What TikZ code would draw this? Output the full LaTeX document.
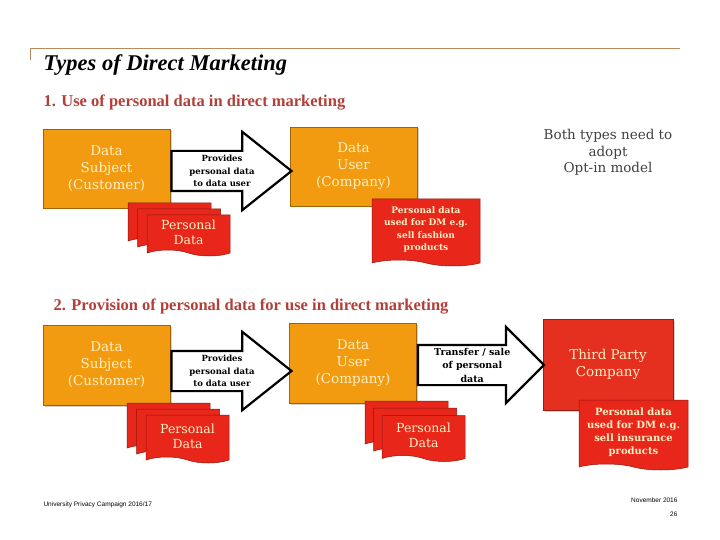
\documentclass[tikz,border=0pt]{standalone}
\usepackage{fontspec}
\setmainfont{DejaVu Serif}
\newfontfamily\headfont{Liberation Serif}
\newfontfamily\footfont{Liberation Sans}
\usepackage{tikz}
\usetikzlibrary{shapes.symbols}
\usetikzlibrary{shapes.arrows}
\usetikzlibrary{shadows}
\usetikzlibrary{calc}
\definecolor{boxorange}{HTML}{F29A10}
\definecolor{boxred}{HTML}{E5301F}
\definecolor{docred}{HTML}{E8261A}
\definecolor{cream}{HTML}{FFF0C4}
\definecolor{headred}{HTML}{B23F38}
\definecolor{rulebrown}{HTML}{B98A5C}
\definecolor{notegray}{HTML}{404040}
\tikzset{
	orangebox/.style={rectangle, fill=boxorange, draw=boxorange!65!black, line width=0.8pt,
		minimum width=127pt, minimum height=79pt, text=cream, align=center,
		font=\fontsize{13.5}{17}\selectfont, drop shadow={opacity=0.35, shadow xshift=1.5pt, shadow yshift=-1.5pt}},
	redbox/.style={orangebox, fill=boxred, draw=boxred!65!black},
	sheet/.style={shape=tape, tape bend top=none, tape bend bottom=out and in, tape bend height=6pt,
		fill=docred, draw=docred!60!black, line width=0.5pt, minimum width=83pt, minimum height=41pt,
		text=cream, align=center, font=\fontsize{12.5}{15}\selectfont},
	notesheet/.style={sheet, font=\bfseries\fontsize{9}{12.5}\selectfont},
	bigarrow/.style={single arrow, draw=black, fill=white, line width=2.2pt, anchor=tail,
		inner xsep=0pt, inner ysep=19pt, single arrow head extend=19pt},
	arrowtext/.style={align=center, inner sep=0pt, font=\bfseries\fontsize{8.5}{12.5}\selectfont}
}
\begin{document}
\begin{tikzpicture}[x=1pt, y=-1pt] % one unit is one pixel of the slide, y runs down
	\useasboundingbox[fill=white] (0,0) rectangle (720,540);
	
	% Title bar
	\draw[rulebrown, line width=0.8pt] (30,60) -- (30,48) -- (680,48);
	\node[anchor=west, font=\headfont\bfseries\itshape\fontsize{22.5}{26}\selectfont] (title) at (40,65) {Types of Direct Marketing};
	
	% Part 1
	\node[anchor=west, text=headred, font=\headfont\bfseries\fontsize{16.5}{19}\selectfont] (head1) at (40,103) {1. Use of personal data in direct marketing};
	
	\node[orangebox] (subj1) at (106.5,168.5) {Data\\Subject\\(Customer)};
	\node[orangebox] (user1) at (353.5,166.5) {Data\\User\\(Company)};
	
	\node[bigarrow, minimum height=120pt, single arrow tip angle=77] (give1) at ($(subj1.east)+(0,2.5)$) {};
	\node[arrowtext] (give1txt) at ($(give1.tail)!0.42!(give1.tip)$) {Provides\\personal data\\to data user};
	
	% stack of personal data sheets
	\node[sheet] (pdA3) at (169.5,220.5) {};
	\node[sheet] (pdA2) at (179,226.5) {};
	\node[sheet] (pdA1) at (188.5,232.5) {Personal\\Data};
	
	\node[notesheet, minimum width=108pt, minimum height=67pt] (use1) at (426,229.5) {Personal data\\used for DM e.g.\\sell fashion\\products};
	
	\node[text=notegray, align=center, font=\fontsize{13.5}{16.5}\selectfont] (optin) at (608,152.5) {Both types need to\\adopt\\Opt-in model};
	
	% Part 2
	\node[anchor=west, text=headred, font=\headfont\bfseries\fontsize{16.5}{19}\selectfont] (head2) at (50,307) {2. Provision of personal data for use in direct marketing};
	
	\node[orangebox, minimum height=80pt] (subj2) at (106.5,365) {Data\\Subject\\(Customer)};
	\node[orangebox, minimum height=80pt] (user2) at (353,363) {Data\\User\\(Company)};
	\node[redbox, minimum width=130pt, minimum height=91pt] (third) at (608,364.5) {Third Party\\Company};
	
	\node[bigarrow, minimum height=120pt, single arrow tip angle=77] (give2) at ($(subj2.east)+(0,6)$) {};
	\node[arrowtext] (give2txt) at ($(give2.tail)!0.42!(give2.tip)$) {Provides\\personal data\\to data user};
	\node[bigarrow, minimum height=126pt, single arrow tip angle=90, single arrow head extend=18pt] (sell) at ($(user2.east)+(0,2)$) {};
	\node[arrowtext, font=\bfseries\fontsize{9.5}{13.5}\selectfont] (selltxt) at ($(sell.tail)!0.43!(sell.tip)$) {Transfer / sale\\of personal\\data};
	
	\node[sheet, minimum height=48pt] (pdB3) at (168.5,424) {};
	\node[sheet, minimum height=48pt] (pdB2) at (178,430) {};
	\node[sheet, minimum height=48pt] (pdB1) at (187.5,436) {Personal\\Data};
	
	\node[sheet, minimum height=46pt] (pdC3) at (406.5,421) {};
	\node[sheet, minimum height=46pt] (pdC2) at (415,428) {};
	\node[sheet, minimum height=46pt] (pdC1) at (423.5,435.5) {Personal\\Data};
	
	\node[notesheet, minimum width=109pt, minimum height=70pt, font=\bfseries\fontsize{10}{13}\selectfont] (use2) at (633.5,432) {Personal data\\used for DM e.g.\\sell insurance\\products};
	
	% Footer
	\node[anchor=west, font=\footfont\fontsize{6.5}{8}\selectfont] (foot) at (40,505) {University Privacy Campaign 2016/17};
	\node[anchor=east, font=\footfont\fontsize{6.5}{8}\selectfont] (date) at (681,500) {November 2016};
	\node[anchor=east, font=\footfont\fontsize{6.5}{8}\selectfont] (page) at (681,514) {26};
\end{tikzpicture}
\end{document}
